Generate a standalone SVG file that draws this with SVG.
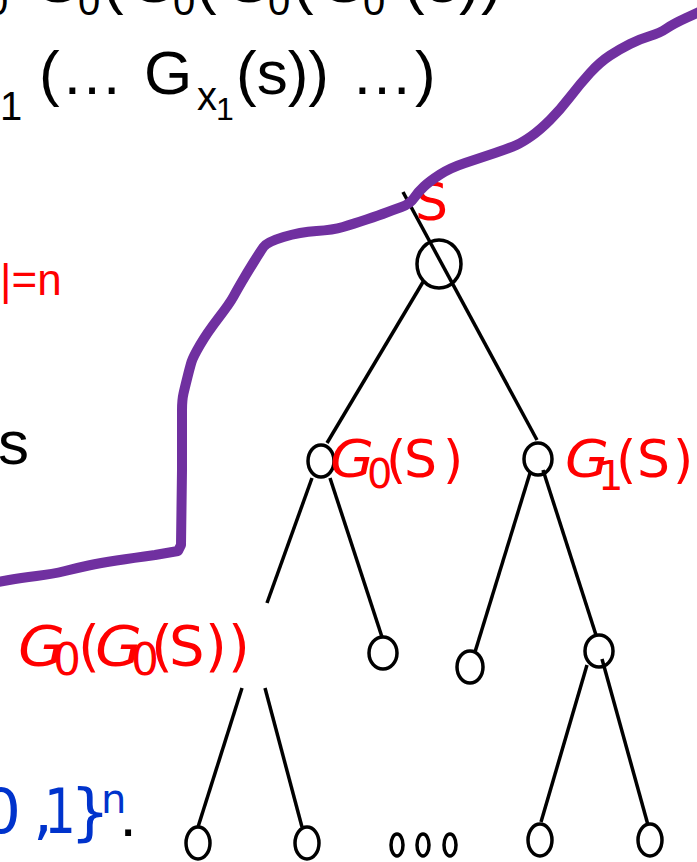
<svg xmlns="http://www.w3.org/2000/svg" width="697" height="862" viewBox="0 0 697 862">
<style>
.bk{font-family:"Liberation Sans",Arial,sans-serif;fill:#000}
.rd{font-family:"Comic Sans MS","DejaVu Sans",sans-serif;fill:#FF0000}
.bl{font-family:"Comic Sans MS","DejaVu Sans",sans-serif;fill:#0033CC}
.gi{font-style:italic}
.edge{stroke:#000;stroke-width:3.5;fill:none;stroke-linecap:butt}
.node{stroke:#000;stroke-width:3.5;fill:none}
.cut{stroke:#7030A0;stroke-width:10;fill:none;stroke-linecap:round;stroke-linejoin:round}
</style>
<rect width="697" height="862" fill="#fff"/>

<g id="formula-top" class="bk">
  <text font-size="40" x="-14" y="15">0</text>
  <text font-size="62" x="33" y="2">G</text>
  <text font-size="40" x="78" y="15">0</text>
  <text font-size="62" x="103" y="2">(</text>
  <text font-size="62" x="129" y="2">G</text>
  <text font-size="40" x="173" y="15">0</text>
  <text font-size="62" x="196" y="2">(</text>
  <text font-size="62" x="224" y="2">G</text>
  <text font-size="40" x="268" y="15">0</text>
  <text font-size="62" x="293" y="2">(</text>
  <text font-size="62" x="319" y="2">G</text>
  <text font-size="40" x="363" y="15">0</text>
  <text font-size="62" x="404" y="2">(</text>
  <text font-size="62" x="427" y="2">s</text>
  <text font-size="62" x="459" y="2">)</text>
  <text font-size="62" x="481" y="2">)</text>
</g>

<g id="formula-line2" class="bk">
  <text font-size="40" x="0" y="120">1</text>
  <text font-size="62" x="39" y="94">(</text>
  <text font-size="62" x="61" y="94">…</text>
  <text font-size="62" x="144" y="94">G</text>
  <text font-size="40" x="197" y="110">x</text>
  <text font-size="32" x="216" y="120">1</text>
  <text font-size="62" x="236" y="94">(s))</text>
  <text font-size="62" x="351" y="94">…</text>
  <text font-size="62" x="415" y="94">)</text>
</g>

<g id="label-n">
  <text font-family="Liberation Sans,Arial,sans-serif" font-size="44" fill="#FF0000" x="0" y="295">|=n</text>
</g>
<g id="label-s" class="bk">
  <text font-size="62" x="-2" y="464">s</text>
</g>
<g id="label-range">
  <text class="bl" font-size="63" x="-19" y="833">0</text>
  <text class="bl" font-size="63" x="33" y="833">,</text>
  <text class="bl" font-size="63" x="44" y="833" textLength="32" lengthAdjust="spacingAndGlyphs">1</text>
  <text class="bl" font-size="63" x="70" y="833">}</text>
  <text class="bl" font-size="40" x="101" y="813">n</text>
  <text class="bk" font-size="62" x="119.5" y="836">.</text>
</g>

<g id="connectors">
  <line class="edge" x1="403" y1="192" x2="537" y2="440"/>
  <line class="edge" x1="423" y1="282" x2="327" y2="443"/>
  <line class="edge" x1="312" y1="478" x2="267" y2="603"/>
  <line class="edge" x1="330" y1="478" x2="382" y2="637"/>
  <line class="edge" x1="242" y1="688" x2="198" y2="827"/>
  <line class="edge" x1="265" y1="688" x2="302" y2="827"/>
  <line class="edge" x1="530" y1="473" x2="475" y2="652"/>
  <line class="edge" x1="543" y1="470" x2="596" y2="635"/>
  <line class="edge" x1="587" y1="665" x2="541" y2="822"/>
  <line class="edge" x1="602" y1="659" x2="648" y2="825"/>
</g>

<g id="node-root">
  <ellipse class="node" cx="439" cy="264" rx="22" ry="24"/>
  <text class="rd" font-size="52" x="415" y="220">S</text>
</g>
<g id="node-G0S">
  <ellipse class="node" cx="321" cy="461" rx="13" ry="16"/>
  <text class="rd gi" font-size="52" x="330" y="477" textLength="44" lengthAdjust="spacingAndGlyphs">G</text>
  <text class="rd" font-size="40" x="367" y="488">0</text>
  <text class="rd" font-size="52" x="386" y="477">(</text>
  <text class="rd" font-size="52" x="404" y="477">S</text>
  <text class="rd" font-size="52" x="443" y="477">)</text>
</g>
<g id="node-G1S">
  <ellipse class="node" cx="538" cy="459" rx="14" ry="16"/>
  <text class="rd gi" font-size="52" x="565" y="477" textLength="44" lengthAdjust="spacingAndGlyphs">G</text>
  <text class="rd" font-size="40" x="598" y="490">1</text>
  <text class="rd" font-size="52" x="616" y="477">(</text>
  <text class="rd" font-size="52" x="637" y="477">S</text>
  <text class="rd" font-size="52" x="673" y="477">)</text>
</g>
<g id="node-G0G0S">
  <text class="rd gi" font-size="56" x="18" y="665" textLength="47" lengthAdjust="spacingAndGlyphs">G</text>
  <text class="rd" font-size="44" x="53" y="675">0</text>
  <text class="rd" font-size="56" x="78" y="665">(</text>
  <text class="rd gi" font-size="56" x="95" y="665" textLength="47" lengthAdjust="spacingAndGlyphs">G</text>
  <text class="rd" font-size="44" x="131" y="675">0</text>
  <text class="rd" font-size="56" x="151" y="665">(</text>
  <text class="rd" font-size="56" x="169" y="665">S</text>
  <text class="rd" font-size="56" x="205" y="665">)</text>
  <text class="rd" font-size="56" x="228" y="665">)</text>
</g>
<g id="node-G0S-right">
  <ellipse class="node" cx="383" cy="653" rx="14" ry="16"/>
</g>
<g id="node-G1S-left">
  <ellipse class="node" cx="470" cy="667" rx="13" ry="16"/>
</g>
<g id="node-G1S-right">
  <ellipse class="node" cx="599" cy="651" rx="14" ry="16"/>
</g>
<g id="leaf-1"><ellipse class="node" cx="198" cy="843" rx="12" ry="16"/></g>
<g id="leaf-2"><ellipse class="node" cx="307" cy="843" rx="12" ry="16"/></g>
<g id="leaf-dots">
  <ellipse class="node" cx="397" cy="845" rx="6" ry="11"/>
  <ellipse class="node" cx="423" cy="845" rx="6" ry="11"/>
  <ellipse class="node" cx="450" cy="845" rx="6" ry="11"/>
</g>
<g id="leaf-3"><ellipse class="node" cx="540" cy="840" rx="12" ry="16"/></g>
<g id="leaf-4"><ellipse class="node" cx="650" cy="840" rx="12" ry="16"/></g>

<g id="cut-curve">
  <path class="cut" d="M-2,582 L9,580 Q20,578 36.5,576 Q53,574 65,571 Q77,568 88.5,565.5 Q100,563 116.5,560.5 Q133,558 155,555 L178,551 L181,545 L182,470 L182,410 Q182,400 183.5,393.5 Q185,387 187.5,377 Q190,367 191.5,362 Q193,357 200,345 Q207,333 218.5,318 Q230,303 233.5,296.5 Q237,290 242,281.5 Q247,273 253.5,262.5 Q260,252 263.5,247 Q267,242 283.5,237 Q300,232 316.5,231 Q333,230 343,227 Q353,224 366.5,219.5 Q380,215 386.5,212.5 Q393,210 401.5,207 Q410,204 414,198 Q418,192 424,186.5 Q430,181 440,174.5 Q450,168 465,163 Q480,158 495,153 Q510,148 516.5,145 Q523,142 531.5,136 Q540,130 550,120 Q560,110 570,97 Q580,84 590,73 Q600,62 610,55.5 Q620,49 630,44 Q640,39 650,36 Q660,33 666.5,28.5 Q673,24 686,18 L699,12"/>
</g>
</svg>
